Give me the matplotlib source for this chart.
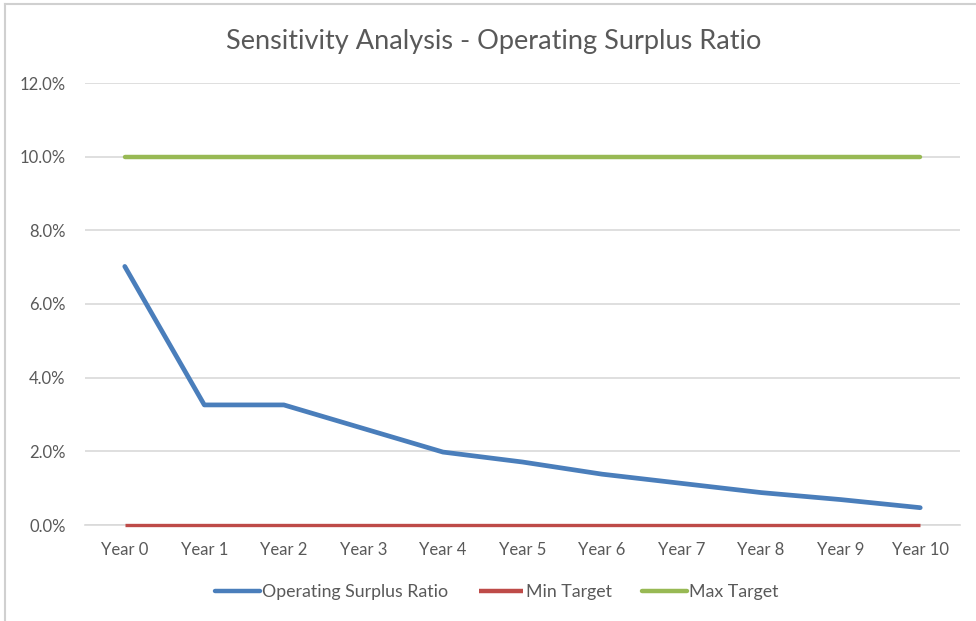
import matplotlib.pyplot as plt
from matplotlib.lines import Line2D
from matplotlib.ticker import FuncFormatter

years = ["Year 0", "Year 1", "Year 2", "Year 3", "Year 4", "Year 5",
         "Year 6", "Year 7", "Year 8", "Year 9", "Year 10"]
surplus_ratio = [0.0702, 0.0326, 0.0326, 0.0262, 0.0198, 0.0171,
                 0.0138, 0.0113, 0.0088, 0.0069, 0.0047]
min_target = [0.0] * 11
max_target = [0.10] * 11

plt.rcParams['font.family'] = ['Lato', 'DejaVu Sans']

fig = plt.figure(figsize=(9.76, 6.21), dpi=100)
ax = fig.add_axes([85 / 976, 1 - 525 / 621, 875 / 976, 442 / 621])

x = list(range(len(years)))
ax.plot(x, surplus_ratio, color='#4A7EBB', linewidth=3.4,
        solid_capstyle='round', label='Operating Surplus Ratio', zorder=4)
ax.plot(x, min_target, color='#BE4B48', linewidth=2.4,
        solid_capstyle='butt', label='Min Target', zorder=3, clip_on=False)
ax.plot(x, max_target, color='#98B954', linewidth=3.2,
        solid_capstyle='round', label='Max Target', zorder=3)

ax.set_xlim(-0.5, len(years) - 0.5)
ax.set_ylim(0, 0.12)
ax.set_yticks([0, 0.02, 0.04, 0.06, 0.08, 0.10, 0.12])
ax.yaxis.set_major_formatter(FuncFormatter(lambda v, p: f"{v * 100:.1f}%"))
ax.set_xticks(x)
ax.set_xticklabels(years)
ax.tick_params(length=0, labelsize=12, labelcolor='#595959')
ax.tick_params(axis='x', pad=12)
ax.tick_params(axis='y', pad=14)
ax.grid(axis='y', color='#D9D9D9', linewidth=1.2)
ax.set_axisbelow(True)
for s in ['top', 'right', 'left']:
    ax.spines[s].set_visible(False)
ax.spines['bottom'].set_color('#D9D9D9')
ax.spines['bottom'].set_linewidth(1.2)

fig.text(494 / 976, 1 - 42 / 621, 'Sensitivity Analysis - Operating Surplus Ratio',
         ha='center', va='center', fontsize=19.5, color='#595959')

leg = ax.legend(loc='center', bbox_to_anchor=((497 - 85) / 875, -(592 - 525) / 442),
                ncol=3, frameon=False, fontsize=12.8, labelcolor='#595959',
                handlelength=2.5, handletextpad=0.15, columnspacing=1.7)
for h in leg.get_lines():
    h.set_linewidth(3.2)

# thin border like the original screenshot
fig.add_artist(Line2D([5 / 976, 5 / 976], [0, 1 - 4 / 621],
                      transform=fig.transFigure, color='#D0D0D0', linewidth=1.5))
fig.add_artist(Line2D([5 / 976, 1], [1 - 4 / 621, 1 - 4 / 621],
                      transform=fig.transFigure, color='#D0D0D0', linewidth=1.5))

fig.savefig('out.png', dpi=100)
